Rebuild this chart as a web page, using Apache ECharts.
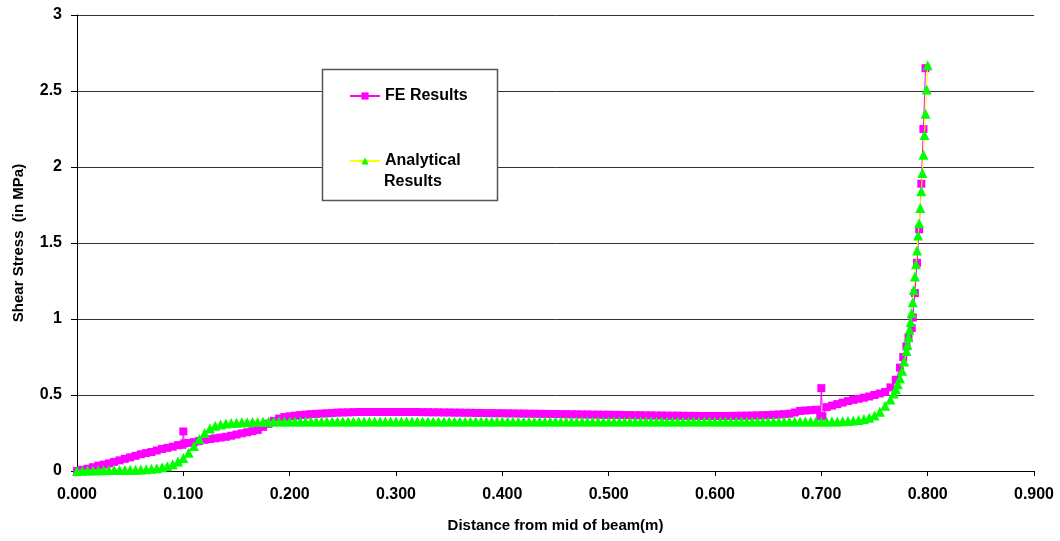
<!DOCTYPE html>
<html>
<head>
<meta charset="utf-8">
<script src="https://cdn.jsdelivr.net/npm/echarts@6/dist/echarts.min.js"></script>
<style>
html,body{margin:0;padding:0;background:#fff;}
#chart{width:1060px;height:541px;}
</style>
</head>
<body>
<div id="chart"></div>
<script>
// Shared sampling grid (distance from mid of beam, m), 0.000 .. 0.755
var xGrid = [
0.000,0.005,0.010,0.015,0.020,0.025,0.030,0.035,0.040,0.045,0.050,0.055,0.060,0.065,0.070,0.075,0.080,0.085,0.090,0.095,
0.100,0.105,0.110,0.115,0.120,0.125,0.130,0.135,0.140,0.145,0.150,0.155,0.160,0.165,0.170,0.175,0.180,0.185,0.190,0.195,
0.200,0.205,0.210,0.215,0.220,0.225,0.230,0.235,0.240,0.245,0.250,0.255,0.260,0.265,0.270,0.275,0.280,0.285,0.290,0.295,
0.300,0.305,0.310,0.315,0.320,0.325,0.330,0.335,0.340,0.345,0.350,0.355,0.360,0.365,0.370,0.375,0.380,0.385,0.390,0.395,
0.400,0.405,0.410,0.415,0.420,0.425,0.430,0.435,0.440,0.445,0.450,0.455,0.460,0.465,0.470,0.475,0.480,0.485,0.490,0.495,
0.500,0.505,0.510,0.515,0.520,0.525,0.530,0.535,0.540,0.545,0.550,0.555,0.560,0.565,0.570,0.575,0.580,0.585,0.590,0.595,
0.600,0.605,0.610,0.615,0.620,0.625,0.630,0.635,0.640,0.645,0.650,0.655,0.660,0.665,0.670,0.675,0.680,0.685,0.690,0.695,
0.700,0.705,0.710,0.715,0.720,0.725,0.730,0.735,0.740,0.745,0.750,0.755
];

// FE Results (MPa) on xGrid
var feY = [
0,0.008,0.015,0.025,0.035,0.042,0.05,0.06,0.07,0.08,0.09,0.10,0.11,0.118,0.125,0.135,0.145,0.152,0.16,0.17,
0.26,0.185,0.19,0.198,0.205,0.21,0.215,0.22,0.225,0.232,0.24,0.248,0.255,0.262,0.27,0.29,0.31,0.33,0.345,0.355,
0.36,0.364,0.368,0.371,0.374,0.376,0.378,0.38,0.382,0.384,0.385,0.386,0.387,0.388,0.388,0.388,0.388,0.388,0.388,0.388,
0.388,0.388,0.388,0.388,0.388,0.387,0.387,0.386,0.386,0.385,0.385,0.384,0.384,0.383,0.383,0.382,0.382,0.381,0.381,0.380,
0.380,0.379,0.379,0.378,0.378,0.377,0.377,0.376,0.376,0.375,0.375,0.374,0.374,0.373,0.373,0.372,0.372,0.371,0.371,0.370,
0.370,0.369,0.369,0.368,0.368,0.367,0.367,0.366,0.366,0.365,0.365,0.364,0.364,0.364,0.363,0.363,0.363,0.362,0.362,0.362,
0.362,0.362,0.362,0.363,0.363,0.364,0.364,0.365,0.366,0.367,0.368,0.370,0.372,0.374,0.377,0.385,0.395,0.398,0.400,0.403,
0.545,0.42,0.43,0.44,0.45,0.46,0.468,0.475,0.482,0.49,0.50,0.51
];
// FE extra points around the two local peaks
var feExtraX = [0.099, 0.101, 0.699, 0.701];
var feExtraY = [0.172, 0.182, 0.36, 0.36];
// FE end region
var feTailX = [0.760,0.765,0.770,0.774,0.777,0.780,0.782,0.785,0.786,0.788,0.790,0.792,0.794,0.796,0.798];
var feTailY = [0.52,0.55,0.60,0.68,0.75,0.82,0.88,0.94,1.01,1.17,1.37,1.59,1.89,2.25,2.65];

// Analytical Results (MPa) on xGrid
var anY = [
0,0.002,0.003,0.004,0.005,0.005,0.006,0.006,0.007,0.007,0.008,0.009,0.010,0.012,0.014,0.018,0.024,0.032,0.045,0.062,
0.085,0.12,0.165,0.21,0.25,0.28,0.297,0.306,0.312,0.315,0.318,0.32,0.321,0.322,0.323,0.324,0.324,0.325,0.325,0.325,
0.325,0.325,0.325,0.325,0.325,0.325,0.325,0.325,0.325,0.325,0.325,0.325,0.325,0.325,0.325,0.325,0.325,0.325,0.325,0.325,
0.325,0.325,0.325,0.325,0.325,0.325,0.325,0.325,0.325,0.325,0.325,0.325,0.325,0.325,0.325,0.325,0.325,0.325,0.325,0.325,
0.325,0.325,0.325,0.325,0.325,0.325,0.325,0.325,0.325,0.325,0.325,0.325,0.325,0.325,0.325,0.325,0.325,0.325,0.325,0.325,
0.325,0.325,0.325,0.325,0.325,0.325,0.325,0.325,0.325,0.325,0.325,0.325,0.325,0.325,0.325,0.325,0.325,0.325,0.325,0.325,
0.325,0.325,0.325,0.325,0.325,0.325,0.325,0.325,0.325,0.325,0.325,0.325,0.325,0.325,0.325,0.325,0.325,0.325,0.325,0.325,
0.325,0.325,0.325,0.325,0.327,0.329,0.332,0.336,0.342,0.35,0.365,0.39
];
// Analytical end region
var anTailX = [0.760,0.765,0.768,0.770,0.772,0.774,0.776,0.778,0.780,0.781,0.782,0.783,0.784,0.785,0.786,0.787,0.788,0.789,0.790,0.791,0.792,0.793,0.794,0.795,0.796,0.797,0.798,0.799,0.800];
var anTailY = [0.43,0.47,0.51,0.54,0.57,0.61,0.66,0.72,0.79,0.83,0.88,0.93,0.98,1.04,1.11,1.19,1.28,1.36,1.45,1.55,1.63,1.73,1.84,1.96,2.08,2.21,2.35,2.51,2.67];

var xTicks = [0, 0.1, 0.2, 0.3, 0.4, 0.5, 0.6, 0.7, 0.8, 0.9];
var yTicks = [0, 0.5, 1, 1.5, 2, 2.5, 3];

function pairs(xs, ys) {
  var out = [];
  for (var i = 0; i < Math.min(xs.length, ys.length); i++) out.push([xs[i], ys[i]]);
  return out;
}
var feData = pairs(xGrid, feY).concat(pairs(feExtraX, feExtraY), pairs(feTailX, feTailY));
feData.sort(function (a, b) { return a[0] - b[0]; });
var anData = pairs(xGrid, anY).concat(pairs(anTailX, anTailY));
anData.sort(function (a, b) { return a[0] - b[0]; });

var FONT = '"Liberation Sans", Arial, sans-serif';
var chart = echarts.init(document.getElementById('chart'), null, {renderer: 'canvas'});
chart.setOption({
  animation: false,
  backgroundColor: '#ffffff',
  grid: {left: 77, right: 26, top: 15, bottom: 70, containLabel: false},
  xAxis: {
    type: 'value',
    min: xTicks[0], max: xTicks[xTicks.length - 1], interval: 0.1,
    name: 'Distance from mid of beam(m)',
    nameLocation: 'middle', nameGap: 47,
    nameTextStyle: {fontFamily: FONT, fontWeight: 'bold', fontSize: 15, color: '#000'},
    axisLine: {show: true, onZero: false, lineStyle: {color: '#000', width: 1}},
    axisTick: {show: true, inside: false, length: 5, lineStyle: {color: '#000'}},
    axisLabel: {fontFamily: FONT, fontWeight: 'bold', fontSize: 16, color: '#000', margin: 16,
      formatter: function (v) { return v.toFixed(3); }},
    splitLine: {show: false}
  },
  yAxis: {
    type: 'value',
    min: yTicks[0], max: yTicks[yTicks.length - 1], interval: 0.5,
    name: 'Shear Stress  (in MPa)',
    nameLocation: 'middle', nameGap: 51,
    nameTextStyle: {fontFamily: FONT, fontWeight: 'bold', fontSize: 15, color: '#000'},
    axisLine: {show: true, lineStyle: {color: '#000', width: 1}},
    axisTick: {show: true, inside: false, length: 6, lineStyle: {color: '#000'}},
    axisLabel: {fontFamily: FONT, fontWeight: 'bold', fontSize: 16, color: '#000', margin: 15},
    splitLine: {show: true, lineStyle: {color: '#333', width: 1}}
  },
  graphic: [{
    type: 'rect', z: 3,
    shape: {x: 322.5, y: 69.5, width: 175, height: 131},
    style: {fill: '#fff', stroke: '#555', lineWidth: 1.5}
  }, {
    type: 'text', z: 11, left: 384, top: 174,
    style: {text: 'Results', font: 'bold 16px "Liberation Sans", Arial, sans-serif', fill: '#000'}
  }],
  legend: [{
    data: ['FE Results'], z: 10,
    left: 349, top: 88, padding: 0, itemWidth: 30, itemHeight: 9, itemGap: 5,
    textStyle: {fontFamily: FONT, fontWeight: 'bold', fontSize: 16, color: '#000'}
  }, {
    data: ['Analytical Results'], z: 10,
    left: 349, top: 153, padding: 0, itemWidth: 30, itemHeight: 9, itemGap: 5,
    formatter: function () { return 'Analytical'; },
    textStyle: {fontFamily: FONT, fontWeight: 'bold', fontSize: 16, color: '#000'}
  }],
  series: [{
    name: 'FE Results', type: 'line', data: feData, z: 2,
    symbol: 'rect', symbolSize: 8, showAllSymbol: true,
    itemStyle: {color: '#FF00FF'},
    lineStyle: {color: '#FF00FF', width: 1}
  }, {
    name: 'Analytical Results', type: 'line', data: anData, z: 3,
    symbol: 'triangle', symbolSize: 10, showAllSymbol: true,
    itemStyle: {color: '#00FF00'},
    lineStyle: {color: '#FFFF00', width: 1}
  }]
});
</script>
</body>
</html>
